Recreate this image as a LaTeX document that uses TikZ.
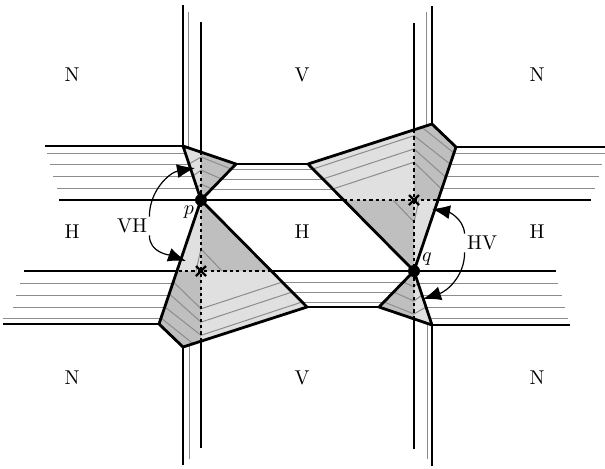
\documentclass[tikz,border=0pt]{standalone}
\usetikzlibrary{arrows.meta}

% strips of one half; the other half is the same turned round the centre
\newcommand{\stripset}{%
  % vertical strips
  \draw[rim] (183,5) -- (183,146);
  \draw[contour] (188,12) -- (188,148);
  \draw[rim] (201,22) -- (201,152);
  \draw[rim] (414,23) -- (414,130);
  \draw[contour] (426,12) -- (426,126);
  \draw[rim] (432,6) -- (432,124);
  % horizontal strips
  \draw[rim] (45,146) -- (183,146);
  \draw[rim] (59,200) -- (591,200);
  \draw[rim] (236,164) -- (308,164);
  \draw[rim] (456,147) -- (612,147);
  \foreach \y/\xa/\xb in {153/47/612,164/50/602,176/53/599,188/57/595}{
    \draw[contour] (\xa,\y) -- (200,\y);
    \draw[contour] (436,\y) -- (\xb,\y);
  }
  \foreach \y/\xa/\xb in {169/225/320,179/215/330,189/205/340}
    \draw[contour] (\xa,\y) -- (\xb,\y);
}

% cells of one half
\newcommand{\cellset}{%
  \fill[lightcell] (183,146) -- (201,152) -- (201,200) -- cycle;
  \fill[darkcell] (201,152) -- (236,164) -- (201,200) -- cycle;
  \fill[lightcell] (308,164) -- (414,130) -- (414,200) -- (343.7,200) -- cycle;
  \fill[darkcell] (414,130) -- (432,124) -- (456,147) -- (437.5,200) -- (414,200) -- cycle;
  \fill[darkcell] (343.7,200) -- (414,200) -- (414,271) -- cycle;
  \fill[lightcell] (414,200) -- (437.5,200) -- (414,271) -- cycle;
  % bent level lines
  \draw[contour] (189,164) -- (201,157) -- (231,169);
  \draw[contour] (193,176) -- (201,170) -- (221.4,179);
  \draw[contour] (197,188) -- (201,184) -- (211.7,189);
  \begin{scope}
    \clip (308,164) -- (432,124) -- (456,147) -- (414,271) -- cycle;
    \draw[contour] (454,153) -- (414,121) -- (300,158.6);
    \draw[contour] (450,164) -- (414,135.7) -- (313,169);
    \draw[contour] (445.5,177) -- (414,148.9) -- (322.8,179);
    \draw[contour] (441.4,189) -- (414,162.2) -- (332.7,189);
  \end{scope}
  \draw[contour] (393,200) -- (414,222) -- (419,200);
  % seams
  \draw[seam] (201,152) -- (201,200);
  \draw[seam] (414,130) -- (414,271);
  \draw[seam] (343.7,200) -- (437.5,200);
  \draw[xmark] (409,195) -- (419,205) (409,205) -- (419,195);
  % outlines
  \draw[rim] (183,146) -- (236,164) -- (201,200) -- cycle;
  \draw[rim] (308,164) -- (432,124) -- (456,147) -- (414,271) -- cycle;
}

\begin{document}
\begin{tikzpicture}[x=0.5pt,y=-0.5pt,
  rim/.style={line width=1.4pt,line join=round},
  contour/.style={line width=0.5pt,black!45},
  lightcell/.style={fill=black!12},
  darkcell/.style={fill=black!25},
  seam/.style={line width=0.75pt,dash pattern=on 1.6pt off 1.6pt},
  xmark/.style={line width=1.2pt},
  vertex/.style={circle,fill,inner sep=0pt,minimum size=6pt},
  pointer/.style={line width=0.6pt,-{Latex[length=9pt,width=7pt]}}]
  \useasboundingbox (0,0) rectangle (605,468);

  \stripset
  \begin{scope}[rotate around={180:(307.5,235.5)}]
    \stripset
  \end{scope}
  \cellset
  \begin{scope}[rotate around={180:(307.5,235.5)}]
    \cellset
  \end{scope}

  \node[vertex] (p) at (201,200) {};
  \node[vertex] (q) at (414,271) {};
  \node (plabel) at (189,212) {$p$};
  \node (qlabel) at (427,259) {$q$};

  % region names
  \node (n1) at (72,75) {N};
  \node (v1) at (302,75) {V};
  \node (n2) at (537,75) {N};
  \node (h1) at (72,232) {H};
  \node (h2) at (302,232) {H};
  \node (h3) at (537,232) {H};
  \node (n3) at (72,378) {N};
  \node (v2) at (302,378) {V};
  \node (n4) at (537,378) {N};

  % crossings
  \coordinate (vhup) at (195,168);
  \coordinate (vhdown) at (186,261);
  \coordinate (hvup) at (432,209);
  \coordinate (hvdown) at (423,299);
  \node[inner sep=1pt] (vh) at (132,226) {VH};
  \node[inner sep=1pt] (hv) at (482,243) {HV};
  \draw[pointer] (vh.north east) to[out=90,in=190] (vhup);
  \draw[pointer] (vh.south east) to[out=-90,in=160] (vhdown);
  \draw[pointer] (hv.north west) to[out=95,in=-10] (hvup);
  \draw[pointer] (hv.south west) to[out=-90,in=18] (hvdown);
\end{tikzpicture}
\end{document}
